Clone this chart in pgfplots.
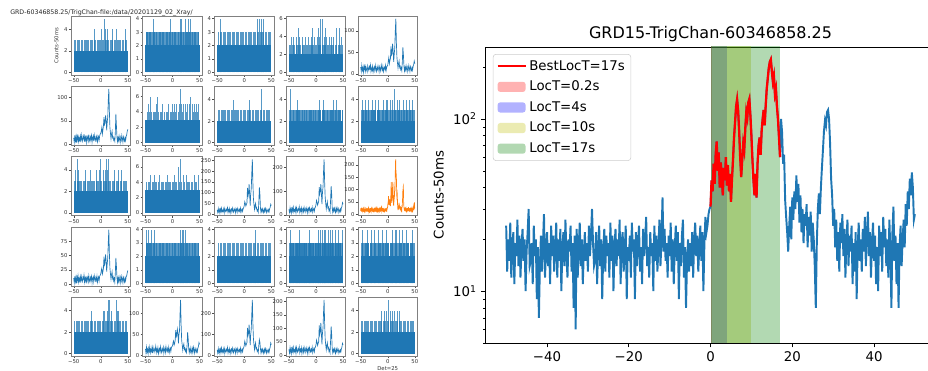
\documentclass[border=0pt]{standalone}
\usepackage{pgfplots}
\pgfplotsset{compat=1.18}
\usepackage{pgfplotstable}
\usepackage{fontspec}
\setmainfont{DejaVu Sans}
\definecolor{c0}{HTML}{1F77B4}
\definecolor{c1}{HTML}{FF7F0E}
\definecolor{ygold}{rgb}{0.75,0.75,0}
\definecolor{gdark}{rgb}{0,0.5,0}

% GRD15 light curve, 0.25 s steps from -50 to 50
\pgfplotstableread[row sep=\\]{v\\
24\\13\\20\\15\\25\\12\\18\\22\\11\\19\\16\\26\\14\\21\\12\\18\\23\\15\\20\\10\\
17\\22\\30\\14\\15\\19\\11\\24\\16\\20\\9\\18\\7\\14\\21\\13\\19\\28\\12\\17\\
22\\14\\19\\11\\24\\16\\21\\13\\18\\25\\12\\20\\15\\23\\10\\18\\22\\14\\26\\16\\
12\\20\\17\\24\\13\\19\\8\\21\\6\\23\\12\\18\\25\\14\\20\\11\\17\\22\\15\\19\\
13\\24\\16\\21\\30\\19\\14\\15\\22\\11\\18\\24\\14\\20\\9\\17\\23\\13\\21\\16\\
19\\12\\25\\15\\21\\10\\18\\23\\14\\20\\16\\26\\11\\19\\22\\13\\17\\24\\9\\18\\
15\\21\\12\\25\\17\\20\\9\\22\\14\\19\\24\\13\\18\\11\\23\\16\\20\\27\\14\\18\\
12\\22\\16\\19\\10\\24\\15\\21\\13\\18\\26\\14\\20\\35\\17\\23\\15\\19\\12\\21\\
16\\25\\13\\20\\11\\18\\24\\15\\22\\9\\19\\14\\21\\26\\12\\18\\8\\15\\20\\13\\
19\\14\\22\\12\\20\\25\\16\\21\\13\\18\\24\\15\\22\\10\\19\\27\\22\\24\\28\\30\\
31\\44\\38\\55\\42\\62\\74\\50\\64\\40\\56\\46\\36\\52\\44\\60\\41\\54\\38\\48\\
33\\45\\58\\78\\96\\118\\130\\112\\85\\60\\46\\58\\72\\66\\88\\110\\102\\125\\131\\105\\
80\\58\\44\\36\\48\\35\\55\\70\\78\\62\\85\\100\\113\\92\\120\\150\\172\\198\\215\\222\\
190\\165\\178\\140\\150\\118\\100\\78\\60\\
100\\84\\55\\62\\34\\27\\22\\17\\24\\31\\20\\35\\26\\38\\30\\47\\33\\42\\25\\36\\
22\\30\\19\\28\\24\\32\\18\\27\\21\\29\\17\\25\\20\\14\\8\\19\\30\\37\\28\\40\\
52\\66\\85\\98\\92\\110\\113\\100\\72\\45\\36\\24\\30\\18\\26\\15\\22\\13\\25\\19\\
28\\16\\23\\12\\20\\26\\14\\21\\17\\24\\11\\19\\13\\22\\9\\18\\25\\15\\20\\13\\
23\\17\\27\\14\\21\\29\\16\\22\\12\\19\\25\\15\\21\\11\\18\\10\\24\\16\\22\\13\\
27\\18\\23\\14\\20\\12\\26\\17\\8\\22\\31\\15\\21\\11\\19\\8\\18\\24\\14\\20\\
26\\18\\32\\24\\38\\30\\45\\36\\49\\40\\26\\28\\
}\tBig

% 1 s light curves of the other bright detectors, -50 to 50
\pgfplotstableread[row sep=\\]{v\\
16\\6\\20\\9\\14\\4\\18\\11\\22\\7\\15\\10\\5\\19\\12\\8\\17\\13\\21\\6\\14\\9\\18\\5\\12\\16\\8\\20\\11\\6\\15\\10\\19\\13\\5\\17\\12\\7\\21\\14\\9\\18\\6\\13\\16\\10\\20\\8\\15\\19\\
20\\30\\38\\24\\31\\36\\64\\44\\48\\70\\52\\28\\46\\60\\100\\128\\72\\38\\26\\14\\24\\30\\15\\18\\10\\14\\8\\28\\62\\44\\18\\7\\15\\9\\19\\11\\5\\16\\10\\20\\13\\6\\17\\12\\8\\15\\9\\18\\22\\30\\24\\
}\tBfive
\pgfplotstableread[row sep=\\]{v\\
14\\5\\19\\8\\16\\4\\18\\10\\21\\6\\13\\9\\17\\5\\20\\11\\7\\16\\12\\22\\6\\15\\9\\19\\4\\13\\17\\8\\21\\10\\6\\16\\11\\19\\5\\14\\18\\7\\20\\12\\8\\15\\10\\21\\6\\13\\17\\9\\18\\22\\
24\\28\\36\\22\\30\\40\\58\\42\\46\\62\\52\\30\\48\\58\\95\\118\\70\\36\\24\\12\\22\\28\\14\\16\\9\\12\\7\\26\\65\\40\\16\\6\\14\\8\\18\\10\\4\\15\\9\\19\\12\\5\\16\\11\\7\\14\\8\\17\\20\\28\\32\\
}\tBsix
\pgfplotstableread[row sep=\\]{v\\
20\\8\\26\\12\\22\\6\\24\\14\\28\\10\\18\\13\\25\\7\\27\\15\\11\\22\\17\\30\\9\\21\\13\\26\\6\\19\\24\\11\\28\\15\\9\\23\\16\\26\\7\\20\\25\\10\\27\\17\\12\\22\\14\\28\\9\\19\\24\\13\\26\\30\\
40\\58\\50\\38\\46\\52\\122\\84\\98\\140\\90\\40\\94\\120\\195\\255\\145\\72\\44\\22\\40\\50\\26\\30\\14\\20\\10\\60\\125\\92\\26\\9\\22\\12\\25\\15\\7\\24\\13\\27\\17\\8\\23\\16\\10\\21\\12\\26\\32\\46\\40\\
}\tBthirteen
\pgfplotstableread[row sep=\\]{v\\
24\\11\\30\\15\\26\\9\\28\\18\\33\\13\\22\\16\\29\\10\\31\\19\\14\\26\\21\\35\\12\\25\\17\\30\\9\\23\\28\\14\\32\\19\\12\\27\\20\\30\\10\\24\\29\\13\\31\\21\\15\\26\\18\\32\\12\\23\\28\\16\\30\\34\\
44\\62\\54\\42\\50\\58\\118\\88\\100\\130\\92\\46\\95\\118\\185\\235\\140\\76\\48\\26\\44\\56\\30\\34\\18\\24\\14\\62\\122\\90\\30\\12\\26\\16\\29\\19\\10\\28\\17\\31\\21\\11\\27\\20\\13\\25\\16\\30\\36\\52\\46\\
}\tBfourteen
\pgfplotstableread[row sep=\\]{v\\
11\\3\\14\\5\\12\\2\\13\\7\\15\\4\\10\\6\\13\\3\\14\\8\\5\\12\\9\\16\\4\\11\\6\\14\\2\\10\\13\\5\\15\\7\\4\\12\\8\\14\\3\\11\\13\\5\\15\\9\\6\\12\\7\\14\\4\\10\\13\\6\\14\\16\\
18\\24\\28\\18\\22\\28\\48\\34\\38\\52\\40\\22\\36\\46\\74\\95\\54\\28\\18\\9\\17\\22\\10\\13\\6\\10\\4\\20\\46\\32\\12\\3\\11\\5\\13\\7\\2\\12\\6\\14\\9\\3\\12\\8\\4\\11\\6\\13\\15\\20\\24\\
}\tBsixteen
\pgfplotstableread[row sep=\\]{v\\
15\\5\\19\\8\\14\\4\\17\\10\\20\\6\\13\\9\\18\\5\\19\\11\\7\\15\\12\\21\\6\\14\\9\\18\\4\\12\\16\\8\\20\\10\\6\\15\\11\\19\\5\\13\\17\\7\\20\\12\\8\\16\\10\\19\\6\\13\\17\\9\\18\\21\\
22\\30\\34\\24\\28\\36\\60\\44\\48\\62\\52\\28\\50\\58\\100\\132\\72\\36\\24\\12\\22\\27\\14\\17\\9\\13\\7\\24\\55\\40\\16\\6\\14\\8\\18\\10\\4\\16\\9\\19\\12\\5\\16\\11\\7\\14\\8\\17\\21\\30\\26\\
}\tBtwentytwo
\pgfplotstableread[row sep=\\]{v\\
27\\12\\33\\17\\28\\10\\31\\20\\36\\14\\25\\18\\32\\11\\34\\21\\15\\29\\23\\38\\13\\27\\19\\33\\10\\25\\31\\16\\35\\21\\13\\30\\22\\33\\11\\26\\32\\15\\34\\23\\17\\28\\20\\35\\13\\25\\31\\18\\33\\37\\
48\\68\\58\\46\\54\\62\\130\\94\\106\\146\\98\\50\\100\\125\\200\\262\\150\\80\\52\\28\\48\\60\\32\\36\\20\\26\\15\\50\\75\\62\\32\\13\\28\\17\\31\\21\\11\\30\\18\\33\\23\\12\\29\\22\\14\\27\\17\\32\\40\\60\\52\\
}\tBtwentythree
\pgfplotstableread[row sep=\\]{v\\
21\\8\\27\\12\\23\\6\\25\\15\\29\\10\\19\\13\\26\\7\\28\\16\\11\\23\\18\\31\\9\\21\\14\\27\\6\\19\\25\\11\\29\\16\\9\\24\\17\\27\\7\\20\\26\\10\\28\\18\\12\\22\\15\\29\\9\\19\\25\\13\\27\\30\\
38\\56\\48\\36\\44\\50\\110\\76\\88\\120\\80\\40\\82\\100\\160\\205\\118\\60\\38\\20\\36\\46\\24\\28\\14\\20\\10\\52\\107\\78\\24\\9\\20\\12\\24\\15\\6\\22\\13\\25\\16\\8\\21\\15\\10\\19\\12\\24\\30\\44\\38\\
}\tBtwentyfour

% bins that reach 3 counts in the faint detectors
\pgfplotstableread[row sep=\\]{x v\\
-48 3\\-46 3\\-43 3\\-41 3\\-39 3\\-36 3\\-34 3\\-31 3\\-29 3\\-27 3\\-24 3\\-22 3\\-19 3\\-17 3\\-15 3\\-12 3\\-10 3\\-7 3\\-5 3\\-2 3\\0 3\\3 3\\5 3\\8 3\\10 3\\12 3\\15 3\\17 3\\20 3\\22 3\\25 3\\27 3\\30 3\\32 3\\35 3\\37 3\\40 3\\42 3\\45 3\\47 3\\
}\tA
\pgfplotstableread[row sep=\\]{x v\\
-49 3\\-47 3\\-44 3\\-42 3\\-40 3\\-37 3\\-35 3\\-33 3\\-30 3\\-28 3\\-25 3\\-23 3\\-21 3\\-18 3\\-16 3\\-13 3\\-11 3\\-9 3\\-6 3\\-4 3\\-1 3\\1 3\\4 3\\6 3\\9 3\\11 3\\14 3\\16 3\\18 3\\21 3\\23 3\\26 3\\28 3\\31 3\\33 3\\36 3\\38 3\\41 3\\43 3\\46 3\\48 3\\
}\tB
\pgfplotstableread[row sep=\\]{x v\\
-47 3\\-45 3\\-42 3\\-39 3\\-37 3\\-35 3\\-32 3\\-30 3\\-27 3\\-25 3\\-22 3\\-20 3\\-18 3\\-15 3\\-13 3\\-10 3\\-8 3\\-5 3\\-3 3\\-1 3\\2 3\\4 3\\7 3\\9 3\\12 3\\14 3\\16 3\\19 3\\21 3\\24 3\\26 3\\29 3\\31 3\\34 3\\36 3\\39 3\\41 3\\44 3\\46 3\\49 3\\
}\tC

\pgfplotsset{
  smax/.style={
    scale only axis, width=44.6pt, height=44.25pt, anchor=south west,
    xmin=-55, xmax=55, xtick={-50,0,50}, xticklabels={−50,0,50},
    tick align=outside, tick pos=left,
    major tick length=1.6pt,
    tick style={black!70, line width=0.3pt},
    axis line style={black!50, line width=0.5pt},
    ticklabel style={font=\fontsize{4}{5}\selectfont, text=black!80, inner sep=0.8pt},
    label style={font=\fontsize{4}{5}\selectfont, text=black!80},
    /pgf/number format/assume math mode=true,
    /pgf/number format/1000 sep={},
    scaled y ticks=false,
  },
  spk/.style={ycomb, color=c0, line width=0.55pt, no markers, draw opacity=0.75},
  areaS/.style={draw=none, fill opacity=0.3,
    legend image code/.code={\fill[##1] (0pt,-3.8pt) rectangle (21pt,3.8pt);}},
  lineLeg/.style={legend image code/.code={\draw[##1] (0pt,0pt) -- (21pt,0pt);}},
}

% #1 position, #2 ymin, #3 ymax, #4 yticks, #5 base level, #6 3-count tables, #7 higher bins, #8 options
\newcommand{\lowplot}[8]{%
\begin{axis}[smax, at={(#1)}, ymin=#2, ymax=#3, ytick={#4}, #8]
\addplot[draw=none, fill=c0] coordinates {(-50,0)(-50,#5)(50,#5)(50,0)} -- cycle;
#6
\addplot[spk] coordinates {#7};
\end{axis}}
\newcommand{\burstplot}[6]{%
\begin{axis}[smax, at={(#1)}, ymin=#2, ymax=#3, ytick={#4}]
\addplot[#6, line width=0.5pt, no markers] table[x expr=\coordindex-50, y=v]{#5};
\end{axis}}

\begin{document}
\begin{tikzpicture}
\path[use as bounding box] (0,0) rectangle (696pt,278.25pt);
\node[anchor=west, inner sep=0pt, font=\fontsize{4.7}{5.6}\selectfont, text=black!85] at (7.5pt,268.8pt) {GRD-60346858.25/TrigChan-file:/data/20201129\_02\_Xray/};

% ---- row 1
\lowplot{53.25pt,222pt}{-0.25}{5.25}{0,2,4}{2}{\addplot[spk] table[x=x,y=v]{\tA};}
 {(-12,4)(1,4)(8,4)(12,4)(21,4)(29,4)(46,4)(6,5)}{ylabel={Counts-50ms}}
\lowplot{107.06pt,222pt}{-0.2}{4.2}{0,1,2,3,4}{2}{\addplot[spk] table[x=x,y=v]{\tA};\addplot[spk] table[x=x,y=v]{\tB};}
 {(-35,4)(-3,4)(14,4)(17,4)(23,4)(30,4)(34,4)}{}
\lowplot{160.88pt,222pt}{-0.2}{4.2}{0,1,2,3,4}{2}{\addplot[spk] table[x=x,y=v]{\tC};}
 {(-45,4)(25,4)(28,4)(31,4)(35,4)}{}
\lowplot{214.69pt,222pt}{-0.3}{6.3}{0,2,4,6}{2}{\addplot[spk] table[x=x,y=v]{\tB};}
 {(-46,4)(-41,4)(-37,4)(-31,4)(-26,4)(-20,4)(-14,4)(-9,4)(-3,4)(2,4)(7,4)(11,4)(16,4)(19,4)(24,4)(28,4)(33,4)(37,4)(43,4)(47,4)(-32,5)(-6,5)(4,5)(18,5)(38,5)(44,5)(8,6)(12,6)}{}
\burstplot{268.5pt,222pt}{-2.2}{134.2}{0,50,100}{\tBfive}{c0}

% ---- row 2
\burstplot{53.25pt,169.3pt}{-1.7}{123.7}{0,50,100}{\tBsix}{c0}
\lowplot{107.06pt,169.3pt}{-0.35}{7.35}{0,2,4,6}{3}{}
 {(-47,4)(-44,4)(-42,4)(-39,4)(-36,4)(-34,4)(-31,4)(-28,4)(-26,4)(-23,4)(-20,4)(-18,4)(-15,4)(-12,4)(-10,4)(-7,4)(-4,4)(-2,4)(1,4)(3,4)(6,4)(8,4)(11,4)(13,4)(16,4)(18,4)(21,4)(23,4)(26,4)(28,4)(31,4)(33,4)(36,4)(38,4)(41,4)(43,4)(46,4)(48,4)(-44,5)(-30,5)(-18,5)(-8,5)(0,5)(4,5)(8,5)(12,5)(17,5)(20,5)(24,5)(28,5)(32,5)(36,5)(40,5)(44,5)(47,5)(-40,6)(-28,6)(15,6)(34,6)(14,7)}{}
\lowplot{160.88pt,169.3pt}{-0.25}{5.25}{0,2,4}{2}{\addplot[spk] table[x=x,y=v]{\tA};}
 {(-20,4)(10,4)(31,4)(32,5)}{}
\lowplot{214.69pt,169.3pt}{-0.25}{5.25}{0,2,4}{2}{\addplot[spk] table[x=x,y=v]{\tB};\addplot[spk] table[x=x,y=v]{\tC};}
 {(-35,4)(7,4)(14,4)(33,4)(37,4)(-48,5)}{}
\lowplot{268.5pt,169.3pt}{-0.25}{5.25}{0,2,4}{2}{\addplot[spk] table[x=x,y=v]{\tA};\addplot[spk] table[x=x,y=v]{\tC};}
 {(-47,4)(-41,4)(-35,4)(-28,4)(-22,4)(-17,4)(-8,4)(-3,4)(0,4)(4,4)(9,4)(18,4)(22,4)(28,4)(34,4)(40,4)(46,4)(13,5)}{}

% ---- row 3
\lowplot{53.25pt,116.55pt}{-0.25}{5.25}{0,2,4}{2}{\addplot[spk] table[x=x,y=v]{\tB};}
 {(-47,4)(-41,4)(-28,4)(-20,4)(-8,4)(-2,4)(5,4)(9,4)(13,4)(25,4)(32,4)(38,4)(-43,5)(0,5)(10,5)(14,5)}{}
\lowplot{107.06pt,116.55pt}{-0.35}{7.35}{0,2,4,6}{3}{}
 {(-48,4)(-45,4)(-43,4)(-40,4)(-37,4)(-35,4)(-32,4)(-29,4)(-27,4)(-24,4)(-21,4)(-19,4)(-16,4)(-13,4)(-11,4)(-8,4)(-5,4)(-3,4)(0,4)(2,4)(5,4)(7,4)(10,4)(12,4)(15,4)(17,4)(20,4)(22,4)(25,4)(27,4)(30,4)(32,4)(35,4)(37,4)(40,4)(42,4)(45,4)(47,4)(-41,5)(-33,5)(-24,5)(-10,5)(3,5)(20,5)(25,5)(40,5)(48,5)(10,6)(15,7)}{}
\burstplot{160.88pt,116.55pt}{-6.5}{267.5}{0,50,100,150,200,250}{\tBthirteen}{c0}
\burstplot{214.69pt,116.55pt}{-2.3}{246.3}{0,100,200}{\tBfourteen}{c0}
\begin{axis}[smax, at={(268.5pt,116.55pt)}, ymin=-4.8, ymax=232.8, ytick={0,50,100,150,200}]
\addplot[c1, line width=0.5pt, no markers] table[x expr=\coordindex*0.25-50, y=v]{\tBig};
\end{axis}

% ---- row 4
\burstplot{53.25pt,63.8pt}{-2.65}{99.65}{0,25,50,75}{\tBsixteen}{c0}
\lowplot{107.06pt,63.8pt}{-0.2}{4.2}{0,1,2,3,4}{2}{\addplot[spk] table[x=x,y=v]{\tA};\addplot[spk] table[x=x,y=v]{\tB};}
 {(-48,4)(-44,4)(-39,4)(-33,4)(15,4)(18,4)(21,4)(24,4)}{}
\lowplot{160.88pt,63.8pt}{-0.2}{4.2}{0,1,2,3,4}{2}{\addplot[spk] table[x=x,y=v]{\tC};}
 {(20,4)}{}
\lowplot{214.69pt,63.8pt}{-0.2}{4.2}{0,1,2,3,4}{2}{\addplot[spk] table[x=x,y=v]{\tA};\addplot[spk] table[x=x,y=v]{\tB};\addplot[spk] table[x=x,y=v]{\tC};}
 {(-48,4)(-30,4)(-12,4)(5,4)(8,4)(11,4)(15,4)(18,4)(22,4)(26,4)(30,4)(35,4)(42,4)(48,4)}{}
\lowplot{268.5pt,63.8pt}{-0.2}{4.2}{0,1,2,3,4}{2}{\addplot[spk] table[x=x,y=v]{\tB};\addplot[spk] table[x=x,y=v]{\tC};}
 {(-47,4)(-38,4)(-30,4)(-25,4)(-18,4)(-10,4)(-2,4)(8,4)(14,4)(16,4)(22,4)(27,4)(35,4)(45,4)}{}

% ---- row 5
\lowplot{53.25pt,11.1pt}{-0.25}{5.25}{0,2,4}{2}{\addplot[spk] table[x=x,y=v]{\tA};}
 {(-17,4)(4,4)(7,4)(12,4)(20,4)(30,4)(33,4)(14,5)(16,5)(28,5)}{}
\burstplot{107.06pt,11.1pt}{-2.4}{138.4}{0,50,100}{\tBtwentytwo}{c0}
\burstplot{160.88pt,11.1pt}{-2.6}{274.6}{0,100,200}{\tBtwentythree}{c0}
\burstplot{214.69pt,11.1pt}{-4}{215}{0,50,100,150,200}{\tBtwentyfour}{c0}
\lowplot{268.5pt,11.1pt}{-0.25}{5.25}{0,2,4}{2}{\addplot[spk] table[x=x,y=v]{\tB};}
 {(-12,4)(-7,4)(-3,4)(5,4)(8,4)(13,4)(18,4)(22,4)(1,5)}{xlabel={Det=25}, xlabel style={at={(axis description cs:0.5,0)}, anchor=center, inner sep=0pt, yshift=-8.9pt}}

% ---- large panel
\begin{axis}[
  at={(364.3pt,21pt)}, anchor=south west, scale only axis,
  width=337.2pt, height=222pt,
  xmin=-55, xmax=55, ymode=log, ymin=5, ymax=262,
  xtick={-40,-20,0,20,40}, xticklabels={−40,−20,0,20,40},
  ytick={10,100}, yticklabels={10\textsuperscript{1},10\textsuperscript{2}},
  minor ytick={5,6,7,8,9,20,30,40,50,60,70,80,90,200},
  tick align=outside, tick pos=left,
  major tick length=3.3pt, minor tick length=1.9pt,
  tick style={black, line width=0.5pt},
  axis line style={line width=0.6pt},
  ticklabel style={font=\fontsize{10}{12}\selectfont},
  title={GRD15-TrigChan-60346858.25},
  title style={font=\fontsize{12}{14}\selectfont, yshift=-6pt},
  ylabel={Counts-50ms}, ylabel style={font=\fontsize{10}{12}\selectfont},
  legend style={at={(0.016,0.976)}, anchor=north west, font=\fontsize{10}{12}\selectfont,
    draw=black!20, rounded corners=2pt, fill=white, row sep=2.6pt, inner sep=2.5pt},
  legend cell align=left,
]
\addlegendimage{red, line width=1.6pt, lineLeg}
\addlegendentry{BestLocT=17s}
\addplot[areaS, fill=red] coordinates {(0,1)(0.2,1)(0.2,1000)(0,1000)} -- cycle;
\addlegendentry{LocT=0.2s}
\addplot[areaS, fill=blue] coordinates {(0,1)(4,1)(4,1000)(0,1000)} -- cycle;
\addlegendentry{LocT=4s}
\addplot[areaS, fill=ygold] coordinates {(0,1)(10,1)(10,1000)(0,1000)} -- cycle;
\addlegendentry{LocT=10s}
\addplot[areaS, fill=gdark] coordinates {(0,1)(17,1)(17,1000)(0,1000)} -- cycle;
\addlegendentry{LocT=17s}
\addplot[c0, line width=1.45pt, no markers, forget plot] table[x expr=\coordindex*0.25-50, y=v]{\tBig};
\addplot[red, line width=1.7pt, no markers, forget plot, restrict x to domain=0:17] table[x expr=\coordindex*0.25-50, y=v]{\tBig};
\end{axis}
\end{tikzpicture}
\end{document}
